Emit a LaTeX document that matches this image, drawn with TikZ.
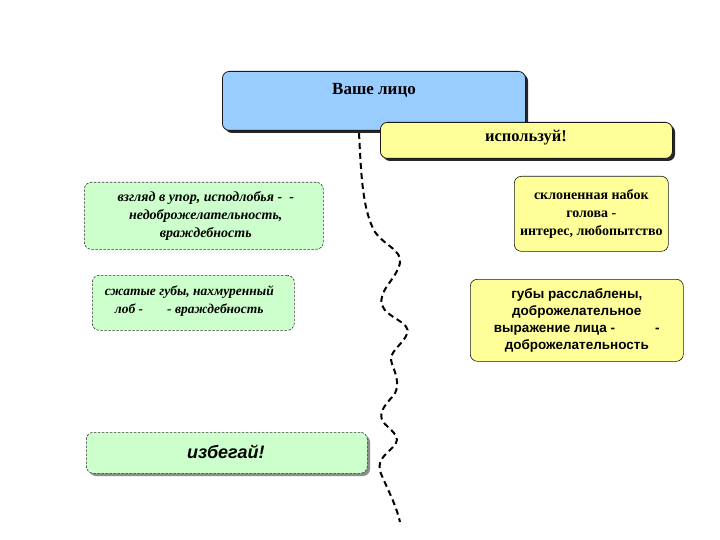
\documentclass[tikz,border=0pt]{standalone}
\usepackage{fontspec}
\setmainfont{Liberation Serif}
\setsansfont{Liberation Sans}
\usetikzlibrary{calc}
\definecolor{boxblue}{HTML}{99CCFF}
\definecolor{boxyellow}{HTML}{FFFF99}
\definecolor{boxgreen}{HTML}{CCFFCC}
\definecolor{edge}{HTML}{1A1A1A}
\begin{document}
\begin{tikzpicture}[x=1pt,y=-1pt,
  panel/.style={rounded corners=7pt, draw=edge, line width=0.8pt, anchor=north west, inner sep=0pt},
  dpanel/.style={panel, dashed, draw=black!80, line width=0.6pt, fill=boxgreen, dash pattern=on 2.5pt off 1.5pt},
  hardshadow/.style={rounded corners=7pt, fill=black!85},
  softshadow/.style={rounded corners=7pt, fill=black!45},
  txt/.style={align=center, inner sep=0pt},
  wave/.style={line width=2pt, dash pattern=on 6pt off 4pt}
]
\useasboundingbox (0,0) rectangle (720,540);
% blue box
\fill[hardshadow] (225,74) rectangle (528,133);
\node[panel, fill=boxblue, minimum width=303pt, minimum height=59pt] (blue) at (222,71) {};
\node[txt, font=\bfseries\fontsize{17}{19}\selectfont] (bluet) at (374,90) {Ваше лицо};
% yellow header
\fill[hardshadow] (383,125) rectangle (675,161);
\node[panel, fill=boxyellow, minimum width=292pt, minimum height=36pt] (use) at (380,122) {};
\node[txt, font=\bfseries\fontsize{16.5}{19}\selectfont] (uset) at (526,138) {используй!};
% left boxes
\node[dpanel, minimum width=239pt, minimum height=67pt] (l1) at (84,182) {};
\node[txt, font=\bfseries\itshape\fontsize{14}{18}\selectfont] (l1t) at ($(l1.center)+(2,0)$) {взгляд в упор, исподлобья -\ \ -\\недоброжелательность,\\враждебность};
\node[dpanel, minimum width=202pt, minimum height=55pt] (l2) at (92,275) {};
\node[txt, font=\bfseries\itshape\fontsize{13.5}{18}\selectfont] (l2t) at ($(l2.center)+(-4,-2)$) {сжатые губы, нахмуренный\\лоб -\hspace{24pt}- враждебность};
\fill[softshadow] (89,435) rectangle (370,476);
\node[dpanel, minimum width=281pt, minimum height=41pt] (l3) at (86,432) {};
\node[txt, font=\sffamily\bfseries\itshape\fontsize{18}{20}\selectfont] (l3t) at ($(l3.center)+(-1,-1)$) {избегай!};
% right boxes
\node[panel, fill=boxyellow, line width=0.6pt, minimum width=154pt, minimum height=75pt] (r1) at (514,176) {};
\node[txt, font=\bfseries\fontsize{14}{18}\selectfont] (r1t) at (r1.center) {склоненная набок\\голова -\\интерес, любопытство};
\node[panel, fill=boxyellow, line width=0.6pt, minimum width=213pt, minimum height=82pt] (r2) at (470,279) {};
\node[txt, font=\sffamily\bfseries\fontsize{13.5}{17}\selectfont] (r2t) at (r2.center) {губы расслаблены,\\доброжелательное\\выражение лица -\hspace{40pt}-\\доброжелательность};
% wavy dashed line
\coordinate (w0) at (359,133);
\coordinate (w9) at (400,522);
\draw[wave] (w0) .. controls (361,170) and (362,210) .. (375,232)
  .. controls (385,246) and (402,250) .. (400,263)
  .. controls (396,280) and (378,290) .. (382,305)
  .. controls (386,318) and (412,322) .. (407,334)
  .. controls (402,346) and (387,352) .. (392,364)
  .. controls (397,376) and (400,388) .. (393,396)
  .. controls (384,406) and (375,416) .. (387,426)
  .. controls (398,436) and (400,440) .. (392,448)
  .. controls (384,456) and (375,462) .. (382,476)
  .. controls (388,490) and (396,505) .. (w9);
\end{tikzpicture}
\end{document}
